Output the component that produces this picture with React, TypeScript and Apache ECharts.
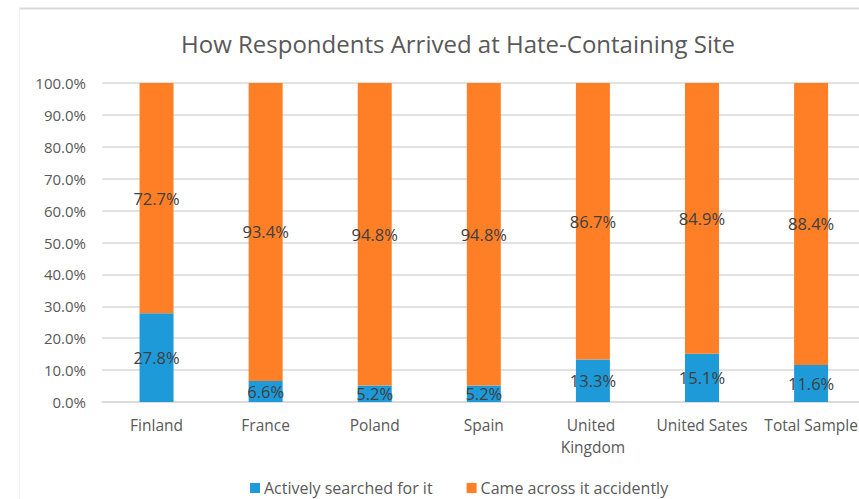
import React, { useEffect, useRef } from "react";
import * as echarts from "echarts";

const categories = [
  "Finland",
  "France",
  "Poland",
  "Spain",
  "United Kingdom",
  "United Sates",
  "Total Sample",
];
const activelySearched = [27.8, 6.6, 5.2, 5.2, 13.3, 15.1, 11.6];
const cameAcross = [72.7, 93.4, 94.8, 94.8, 86.7, 84.9, 88.4];
const seriesNames = ["Actively searched for it", "Came across it accidently"];
const titleText = "How Respondents Arrived at Hate-Containing Site";

const FONT = "'Open Sans', 'Noto Sans', sans-serif";
const BLUE = "#1e9ad8";
const ORANGE = "#fe7f26";

// The plot runs a little past the visible frame on the right, so the chart
// canvas is wider than the clipping frame around it.
const FRAME_W = 859;
const FRAME_H = 499;
const CANVAS_W = 867;

export default function App() {
  const ref = useRef<HTMLDivElement>(null);

  useEffect(() => {
    if (!ref.current) return;
    const chart = echarts.init(ref.current, null, { renderer: "svg" });

    const labelStyle = {
      show: true,
      position: "inside" as const,
      color: "#404040",
      fontFamily: FONT,
      fontSize: 16.5,
      formatter: (p: any) => `${Number(p.value).toFixed(1)}%`,
    };

    chart.setOption({
      animation: false,
      backgroundColor: "#ffffff",
      textStyle: { fontFamily: FONT },
      title: {
        text: titleText,
        left: 453,
        textAlign: "center",
        top: 26,
        textStyle: {
          fontFamily: FONT,
          fontSize: 24,
          fontWeight: "normal",
          color: "#595959",
        },
      },
      graphic: [
        {
          type: "line",
          shape: { x1: 19, y1: 8.5, x2: CANVAS_W, y2: 8.5 },
          style: { stroke: "#d9d9d9", lineWidth: 2 },
          silent: true,
        },
        {
          type: "line",
          shape: { x1: 19.5, y1: 8, x2: 19.5, y2: FRAME_H },
          style: { stroke: "#f0f0f0", lineWidth: 1 },
          silent: true,
        },
      ],
      legend: {
        bottom: -2,
        left: 245,
        itemWidth: 10,
        itemHeight: 10,
        itemGap: 34,
        icon: "rect",
        textStyle: {
          fontFamily: FONT,
          fontSize: 16,
          color: "#595959",
          padding: [0, 0, 0, -1],
        },
        data: seriesNames,
      },
      grid: {
        left: 102,
        right: 0,
        top: 83,
        bottom: 97,
        containLabel: false,
      },
      xAxis: {
        type: "category",
        data: categories,
        axisTick: { show: false },
        axisLine: { show: true, lineStyle: { color: "#d9d9d9", width: 1.5 } },
        axisLabel: {
          color: "#595959",
          fontFamily: FONT,
          fontSize: 15.5,
          margin: 12,
          lineHeight: 22,
          width: 106,
          overflow: "break",
          interval: 0,
        },
      },
      yAxis: {
        type: "value",
        min: 0,
        max: 100,
        interval: 10,
        axisLine: { show: false },
        axisTick: { show: false },
        splitLine: { lineStyle: { color: "#d9d9d9", width: 1.5 } },
        axisLabel: {
          color: "#595959",
          fontFamily: FONT,
          fontSize: 15,
          margin: 16,
          formatter: (v: number) => `${v.toFixed(1)}%`,
        },
      },
      series: [
        {
          name: seriesNames[0],
          type: "bar",
          stack: "total",
          barWidth: 34,
          data: activelySearched,
          itemStyle: { color: BLUE },
          label: labelStyle,
        },
        {
          name: seriesNames[1],
          type: "bar",
          stack: "total",
          barWidth: 34,
          data: cameAcross,
          itemStyle: { color: ORANGE },
          label: labelStyle,
        },
      ],
    });

    return () => chart.dispose();
  }, []);

  return (
    <div
      style={{
        position: "fixed",
        left: 0,
        top: 0,
        width: FRAME_W,
        height: FRAME_H,
        overflow: "hidden",
        background: "#ffffff",
      }}
    >
      <div ref={ref} style={{ width: CANVAS_W, height: FRAME_H }} />
    </div>
  );
}
